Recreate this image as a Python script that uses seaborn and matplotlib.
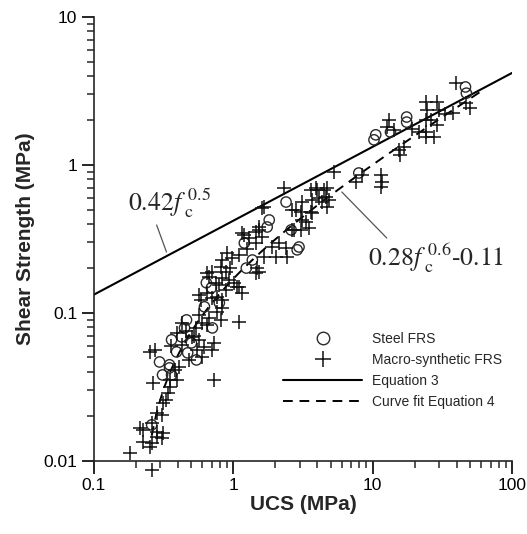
import numpy as np
import pandas as pd
import matplotlib
matplotlib.use('Agg')
import matplotlib.pyplot as plt
import seaborn as sns
from matplotlib.ticker import LogLocator, FuncFormatter, NullFormatter
from matplotlib.lines import Line2D

steel_ucs = [46.2, 46.9, 17.5, 17.5, 13.4, 10.5, 10.2, 7.94, 2.39, 1.81, 1.75, 1.20,
             2.96, 2.60, 1.24, 1.37, 2.87, 0.708, 0.621, 0.697, 0.641, 0.462, 0.425,
             0.501, 0.392, 0.361, 0.296, 0.349, 0.311, 0.26, 0.361, 0.794, 0.447,
             0.471, 0.544, 0.349]
steel_shear = [3.37, 3.06, 2.11, 1.95, 1.67, 1.60, 1.48, 0.883, 0.562, 0.425, 0.381, 0.297,
               0.279, 0.364, 0.201, 0.228, 0.267, 0.0792, 0.11, 0.148, 0.16, 0.0897, 0.0689,
               0.0627, 0.0545, 0.0658, 0.0466, 0.0425, 0.0381, 0.0175, 0.0381, 0.117, 0.0792,
               0.0537, 0.0481, 0.0446]

macro_ucs = [0.181, 0.26, 0.224, 0.26, 0.251, 0.286, 0.306, 0.213, 0.224, 0.26, 0.286, 0.311,
             0.282, 0.306, 0.311, 0.332, 0.338, 0.349, 0.264, 0.349, 0.398, 0.379, 0.411,
             0.273, 0.251, 0.432, 0.485, 0.398, 0.432, 0.544, 0.509, 0.572, 0.553, 0.601,
             0.621, 0.731, 0.731, 0.674, 0.708, 0.652, 0.756, 0.652, 0.834, 0.891, 1.02,
             1.07, 1.16, 1.10, 0.769, 0.821, 0.834, 0.834, 0.936, 0.984, 0.834, 0.906,
             1.48, 1.46, 1.66, 2.03, 2.43, 0.572, 0.59, 0.652, 0.708, 0.674, 0.769,
             1.20, 1.46, 1.53, 1.10, 0.821, 0.891, 0.708, 1.53, 0.794, 1.10, 0.572,
             2.31, 3.61, 3.98, 4.69, 4.11, 4.85, 4.69, 3.11, 2.64, 3.06, 3.61, 3.11,
             3.49, 3.06, 2.64, 1.61, 5.27, 3.92, 4.47, 4.62, 3.67, 2.82, 3.67, 2.73,
             1.66, 1.53, 1.61, 1.16, 1.30, 1.46, 1.90, 2.39, 2.13,
             0.46, 0.52, 0.60, 0.36, 0.95, 1.25, 3.3, 4.3,
             39.2, 46.9, 37.9, 50.1, 23.9, 28.7, 24.3, 29.6, 23.9, 28.7, 21.3, 23.9,
             27.3, 23.9, 13.0, 12.6, 14.1, 15.3, 16.7, 15.8, 8.35, 7.56, 11.4, 11.6, 11.4,
             26.0, 33.0, 19.0]
macro_shear = [0.0113, 0.0087, 0.0134, 0.0132, 0.0124, 0.0145, 0.0143, 0.0167, 0.0162, 0.0181,
               0.0157, 0.0155, 0.0211, 0.0205, 0.0247, 0.0258, 0.0288, 0.0316, 0.0337, 0.0353,
               0.0353, 0.0412, 0.0431, 0.0562, 0.0545, 0.0608, 0.0481, 0.0733, 0.0855, 0.0792,
               0.0689, 0.0658, 0.0562, 0.0504, 0.0589, 0.0627, 0.0353, 0.0925, 0.126, 0.136,
               0.16, 0.186, 0.172, 0.143, 0.16, 0.15, 0.136, 0.0869, 0.102, 0.0897, 0.108,
               0.122, 0.167, 0.235, 0.228, 0.254, 0.201, 0.186, 0.239, 0.239, 0.239,
               0.0969, 0.122, 0.0832, 0.0562, 0.175, 0.128,
               0.336, 0.353, 0.381, 0.247, 0.205, 0.189, 0.189, 0.189, 0.155, 0.15, 0.132,
               0.70, 0.678, 0.678, 0.70, 0.598, 0.58, 0.52, 0.562, 0.497, 0.481, 0.481, 0.425,
               0.375, 0.364, 0.364, 0.512, 0.897, 0.70, 0.678, 0.608, 0.58, 0.497, 0.474, 0.364,
               0.52, 0.364, 0.326, 0.347, 0.321, 0.297, 0.279, 0.275, 0.297,
               0.075, 0.07, 0.085, 0.06, 0.2, 0.27, 0.41, 0.56,
               3.58, 2.62, 2.25, 2.43, 2.67, 2.67, 2.35, 2.35, 2.01, 1.86, 1.67, 1.67,
               1.55, 1.55, 2.01, 1.81, 1.72, 1.26, 1.32, 1.17, 0.856, 0.767, 0.856, 0.767, 0.71,
               2.0, 2.2, 1.75]

# equations shown on the chart
eq3_a, eq3_b = 0.42, 0.5
eq4_a, eq4_b, eq4_c = 0.28, 0.6, 0.11
eq3_range = (0.1, 100)
eq4_range = (0.26, 60)

df_steel = pd.DataFrame({'ucs': steel_ucs, 'shear': steel_shear})
df_macro = pd.DataFrame({'ucs': macro_ucs, 'shear': macro_shear})

x3 = np.logspace(np.log10(eq3_range[0]), np.log10(eq3_range[1]), 200)
df_eq3 = pd.DataFrame({'ucs': x3, 'shear': eq3_a * x3 ** eq3_b})
x4 = np.logspace(np.log10(eq4_range[0]), np.log10(eq4_range[1]), 300)
df_eq4 = pd.DataFrame({'ucs': x4, 'shear': eq4_a * x4 ** eq4_b - eq4_c})
df_eq4 = df_eq4[df_eq4['shear'] > 0.009]

sns.set_style('ticks')
plt.rcParams['font.family'] = ['Liberation Sans', 'DejaVu Sans']
plt.rcParams['mathtext.fontset'] = 'stix'

fig = plt.figure(figsize=(5.27, 5.34), dpi=100)
ax = fig.add_axes([0.178, 0.137, 0.794, 0.831])

sns.lineplot(data=df_eq3, x='ucs', y='shear', color='black', lw=1.5, ax=ax, sort=False)
sns.lineplot(data=df_eq4, x='ucs', y='shear', color='black', lw=1.4, ax=ax, sort=False,
             dashes=False, linestyle=(0, (5, 3.5)))
sns.scatterplot(data=df_steel, x='ucs', y='shear', marker='o', s=55, facecolors='none',
                edgecolors='#2a2a2a', linewidth=1.0, ax=ax, clip_on=False, zorder=3)
sns.scatterplot(data=df_macro, x='ucs', y='shear', marker='+', s=95, color='#111111',
                linewidth=1.1, ax=ax, clip_on=False, zorder=3)

ax.set_xscale('log')
ax.set_yscale('log')
ax.set_xlim(0.1, 100)
ax.set_ylim(0.01, 10)
sns.despine(ax=ax)
for s in ['left', 'bottom']:
    ax.spines[s].set_linewidth(1.2)

fmt = FuncFormatter(lambda v, p: '{:g}'.format(v))
ax.xaxis.set_major_formatter(fmt)
ax.yaxis.set_major_formatter(fmt)
ax.xaxis.set_minor_locator(LogLocator(base=10, subs=np.arange(2, 10)))
ax.yaxis.set_minor_locator(LogLocator(base=10, subs=np.arange(2, 10)))
ax.xaxis.set_minor_formatter(NullFormatter())
ax.yaxis.set_minor_formatter(NullFormatter())
ax.tick_params(which='major', direction='out', length=9, width=1.2, labelsize=12.5, pad=3,
               colors='black')
ax.tick_params(which='minor', direction='out', length=5, width=1.1)

ax.set_xlabel('UCS (MPa)', fontsize=15, fontweight='bold', labelpad=2)
ax.set_ylabel('Shear Strength (MPa)', fontsize=15, fontweight='bold', labelpad=6)

# equation labels with leader lines
ax.text(0.175, 0.55, r'$0.42f_{\ \mathrm{c}}^{\ 0.5}$', fontsize=18.5, ha='left', va='center',
        family='STIXGeneral')
ax.plot([0.282, 0.332], [0.393, 0.258], color='#555555', lw=0.9)
ax.text(9.2, 0.235, r'$0.28f_{\ \mathrm{c}}^{\ 0.6}$-0.11', fontsize=18.5, ha='left',
        va='center', family='STIXGeneral')
ax.plot([6.0, 12.6], [0.657, 0.321], color='#555555', lw=0.9)

handles = [
    Line2D([], [], marker='o', ls='none', mfc='none', mec='#2a2a2a', ms=9, mew=1.0),
    Line2D([], [], marker='+', ls='none', color='#111111', ms=11, mew=1.1),
    Line2D([], [], color='black', lw=1.5),
    Line2D([], [], color='black', lw=1.4, ls=(0, (5, 3.5))),
]
labels = ['Steel FRS', 'Macro-synthetic FRS', 'Equation 3', 'Curve fit Equation 4']
ax.legend(handles, labels, loc='upper left', bbox_to_anchor=(0.452, 0.29), frameon=False,
          fontsize=10, handlelength=5.7, handletextpad=0.7, labelspacing=0.5,
          borderpad=0, borderaxespad=0)

fig.savefig('out.png', dpi=100)
